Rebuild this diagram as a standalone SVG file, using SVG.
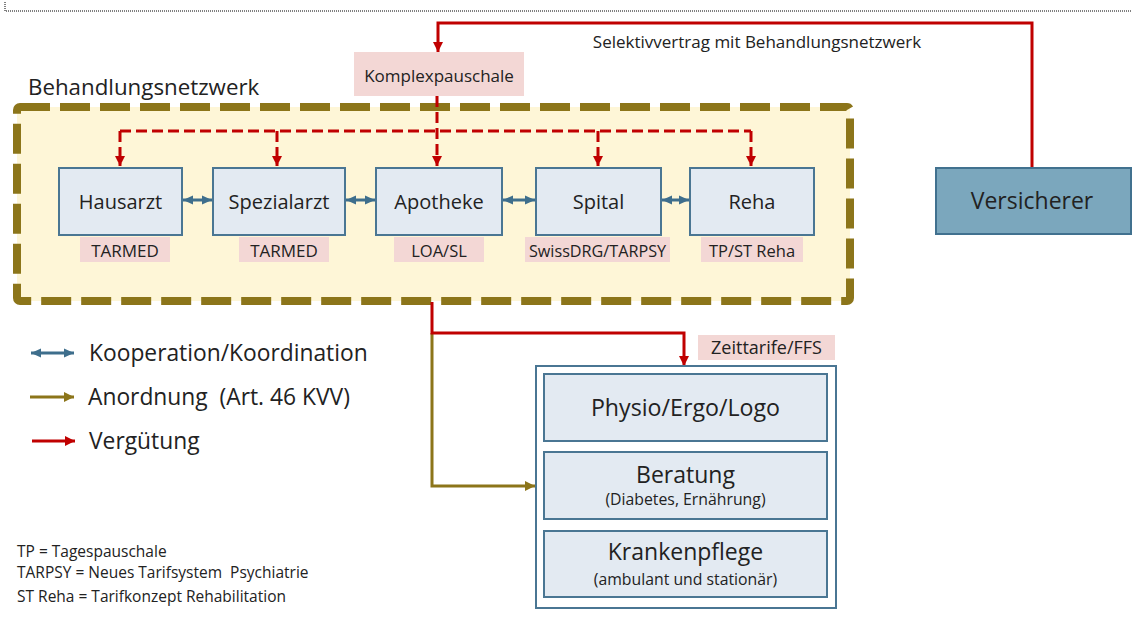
<svg xmlns="http://www.w3.org/2000/svg" width="1132" height="621" viewBox="0 0 1132 621">
  <style>
    text { font-family: "Open Sans", Lato, "Liberation Sans", sans-serif; fill: #222; }
    .node { fill: #E3EAF2; stroke: #4A7693; stroke-width: 2; }
    .tag { fill: #F3D7D5; }
    .tagtxt { font-size: 17px; text-anchor: middle; }
    .nodetxt { font-size: 20px; text-anchor: middle; }
    .bigtxt { font-size: 23px; text-anchor: middle; }
    .subtxt { font-size: 15.8px; text-anchor: middle; }
    .coop { stroke: #3E6E8C; stroke-width: 3; fill: none; marker-start: url(#blueS); marker-end: url(#blueE); }
    .pay { stroke: #C00000; stroke-width: 3; fill: none; }
    .paydash { stroke: #C00000; stroke-width: 3; fill: none; stroke-dasharray: 11 5; }
    .order { stroke: #8C751A; stroke-width: 3; fill: none; }
    .legtxt { font-size: 22.8px; }
    .note { font-size: 15.5px; }
  </style>
  <defs>
    <marker id="redE" markerUnits="userSpaceOnUse" markerWidth="12" markerHeight="12" refX="10" refY="6" orient="auto">
      <path d="M0,1 L10,6 L0,11 Z" fill="#C00000"/>
    </marker>
    <marker id="oliveE" markerUnits="userSpaceOnUse" markerWidth="12" markerHeight="12" refX="10" refY="6" orient="auto">
      <path d="M0,1 L10,6 L0,11 Z" fill="#8C751A"/>
    </marker>
    <marker id="blueE" markerUnits="userSpaceOnUse" markerWidth="12" markerHeight="12" refX="10" refY="6" orient="auto">
      <path d="M0,1.5 L10,6 L0,10.5 Z" fill="#3E6E8C"/>
    </marker>
    <marker id="blueS" markerUnits="userSpaceOnUse" markerWidth="12" markerHeight="12" refX="0" refY="6" orient="auto">
      <path d="M10,1.5 L0,6 L10,10.5 Z" fill="#3E6E8C"/>
    </marker>
  </defs>

  <!-- page frame fragment -->
  <path d="M5,2 V11 H1132" fill="none" stroke="#000" stroke-width="1" stroke-dasharray="1 1"/>

  <!-- network area -->
  <g id="network">
    <rect x="17" y="107" width="833" height="194" rx="3" fill="#FEF6D7" stroke="#8C751A" stroke-width="8" stroke-dasharray="30 10"/>
    <text x="28" y="95" style="font-size:22.3px">Behandlungsnetzwerk</text>
  </g>

  <!-- connectors -->
  <g id="connectors">
    <!-- insurer contract -->
    <path class="pay" d="M1032,168 V23 H438 V52" marker-end="url(#redE)"/>
    <!-- lump sum distribution inside network -->
    <path class="paydash" d="M437,96 V166" marker-end="url(#redE)"/>
    <path class="paydash" d="M120,131 H751"/>
    <path class="paydash" d="M120,131 V166" marker-end="url(#redE)"/>
    <path class="paydash" d="M277,131 V166" marker-end="url(#redE)"/>
    <path class="paydash" d="M598,131 V166" marker-end="url(#redE)"/>
    <path class="paydash" d="M751,131 V166" marker-end="url(#redE)"/>
    <!-- cooperation between providers -->
    <path class="coop" d="M183,200 H212"/>
    <path class="coop" d="M346,200 H375"/>
    <path class="coop" d="M503,200 H535"/>
    <path class="coop" d="M662,200 H689"/>
    <!-- order and payment to therapists -->
    <path class="order" d="M432,333 V486 H535" marker-end="url(#oliveE)"/>
    <path class="pay" d="M432,302 V333 H684 V366" marker-end="url(#redE)"/>
  </g>

  <g id="komplexpauschale">
    <rect class="tag" x="354" y="52" width="170" height="44"/>
    <text class="tagtxt" x="439" y="81.5">Komplexpauschale</text>
  </g>
  <text x="757" y="48" style="font-size:17px;text-anchor:middle">Selektivvertrag mit Behandlungsnetzwerk</text>

  <g id="hausarzt">
    <rect class="node" x="59" y="168" width="123" height="67"/>
    <text class="nodetxt" x="120.5" y="208.5">Hausarzt</text>
    <rect class="tag" x="80" y="237" width="90" height="25"/>
    <text class="tagtxt" x="125" y="256.5">TARMED</text>
  </g>
  <g id="spezialarzt">
    <rect class="node" x="213" y="168" width="132" height="67"/>
    <text class="nodetxt" x="279" y="208.5">Spezialarzt</text>
    <rect class="tag" x="239" y="237" width="90" height="25"/>
    <text class="tagtxt" x="284" y="256.5">TARMED</text>
  </g>
  <g id="apotheke">
    <rect class="node" x="376" y="168" width="126" height="67"/>
    <text class="nodetxt" x="439" y="208.5">Apotheke</text>
    <rect class="tag" x="394" y="237" width="90" height="25"/>
    <text class="tagtxt" x="439" y="256.5" style="font-size:16.5px">LOA/SL</text>
  </g>
  <g id="spital">
    <rect class="node" x="536" y="168" width="125" height="67"/>
    <text class="nodetxt" x="598.5" y="208.5">Spital</text>
    <rect class="tag" x="525" y="237" width="145" height="25"/>
    <text class="tagtxt" x="597.5" y="256.5" style="font-size:16.2px">SwissDRG/TARPSY</text>
  </g>
  <g id="reha">
    <rect class="node" x="690" y="168" width="124" height="67"/>
    <text class="nodetxt" x="752" y="208.5">Reha</text>
    <rect class="tag" x="701" y="237" width="102" height="25"/>
    <text class="tagtxt" x="752" y="256.5" style="font-size:16.5px">TP/ST Reha</text>
  </g>

  <g id="versicherer">
    <rect x="936" y="168" width="195" height="66" fill="#7BA7BD" stroke="#41718F" stroke-width="2"/>
    <text class="bigtxt" x="1032" y="209">Versicherer</text>
  </g>

  <g id="therapien">
    <rect class="tag" x="698" y="335" width="137" height="25"/>
    <text class="tagtxt" x="766.5" y="353.5" style="font-size:18px">Zeittarife/FFS</text>
    <rect x="536" y="366" width="300" height="242" fill="#FFFFFF" stroke="#4A7693" stroke-width="2"/>
  </g>
  <g id="physio">
    <rect class="node" x="544" y="374" width="283" height="67"/>
    <text class="bigtxt" x="685.5" y="416" style="font-size:23.2px">Physio/Ergo/Logo</text>
  </g>
  <g id="beratung">
    <rect class="node" x="544" y="452" width="283" height="67"/>
    <text class="bigtxt" x="685.5" y="483">Beratung</text>
    <text class="subtxt" x="685.5" y="505">(Diabetes, Ernährung)</text>
  </g>
  <g id="krankenpflege">
    <rect class="node" x="544" y="531" width="283" height="66"/>
    <text class="bigtxt" x="685.5" y="560">Krankenpflege</text>
    <text class="subtxt" x="685.5" y="585">(ambulant und stationär)</text>
  </g>

  <g id="legend">
    <path class="coop" d="M31,353 H74"/>
    <text class="legtxt" x="89" y="360.5">Kooperation/Koordination</text>
    <path class="order" d="M30,397 H74" marker-end="url(#oliveE)"/>
    <text class="legtxt" x="88" y="405" xml:space="preserve">Anordnung  (Art. 46 KVV)</text>
    <path class="pay" d="M32,441 H75" marker-end="url(#redE)"/>
    <text class="legtxt" x="89" y="449">Vergütung</text>
  </g>

  <g id="notes">
    <text class="note" x="17" y="556.5">TP = Tagespauschale</text>
    <text class="note" x="17" y="577.5" xml:space="preserve">TARPSY = Neues Tarifsystem  Psychiatrie</text>
    <text class="note" x="17" y="601.5">ST Reha = Tarifkonzept Rehabilitation</text>
  </g>
</svg>
